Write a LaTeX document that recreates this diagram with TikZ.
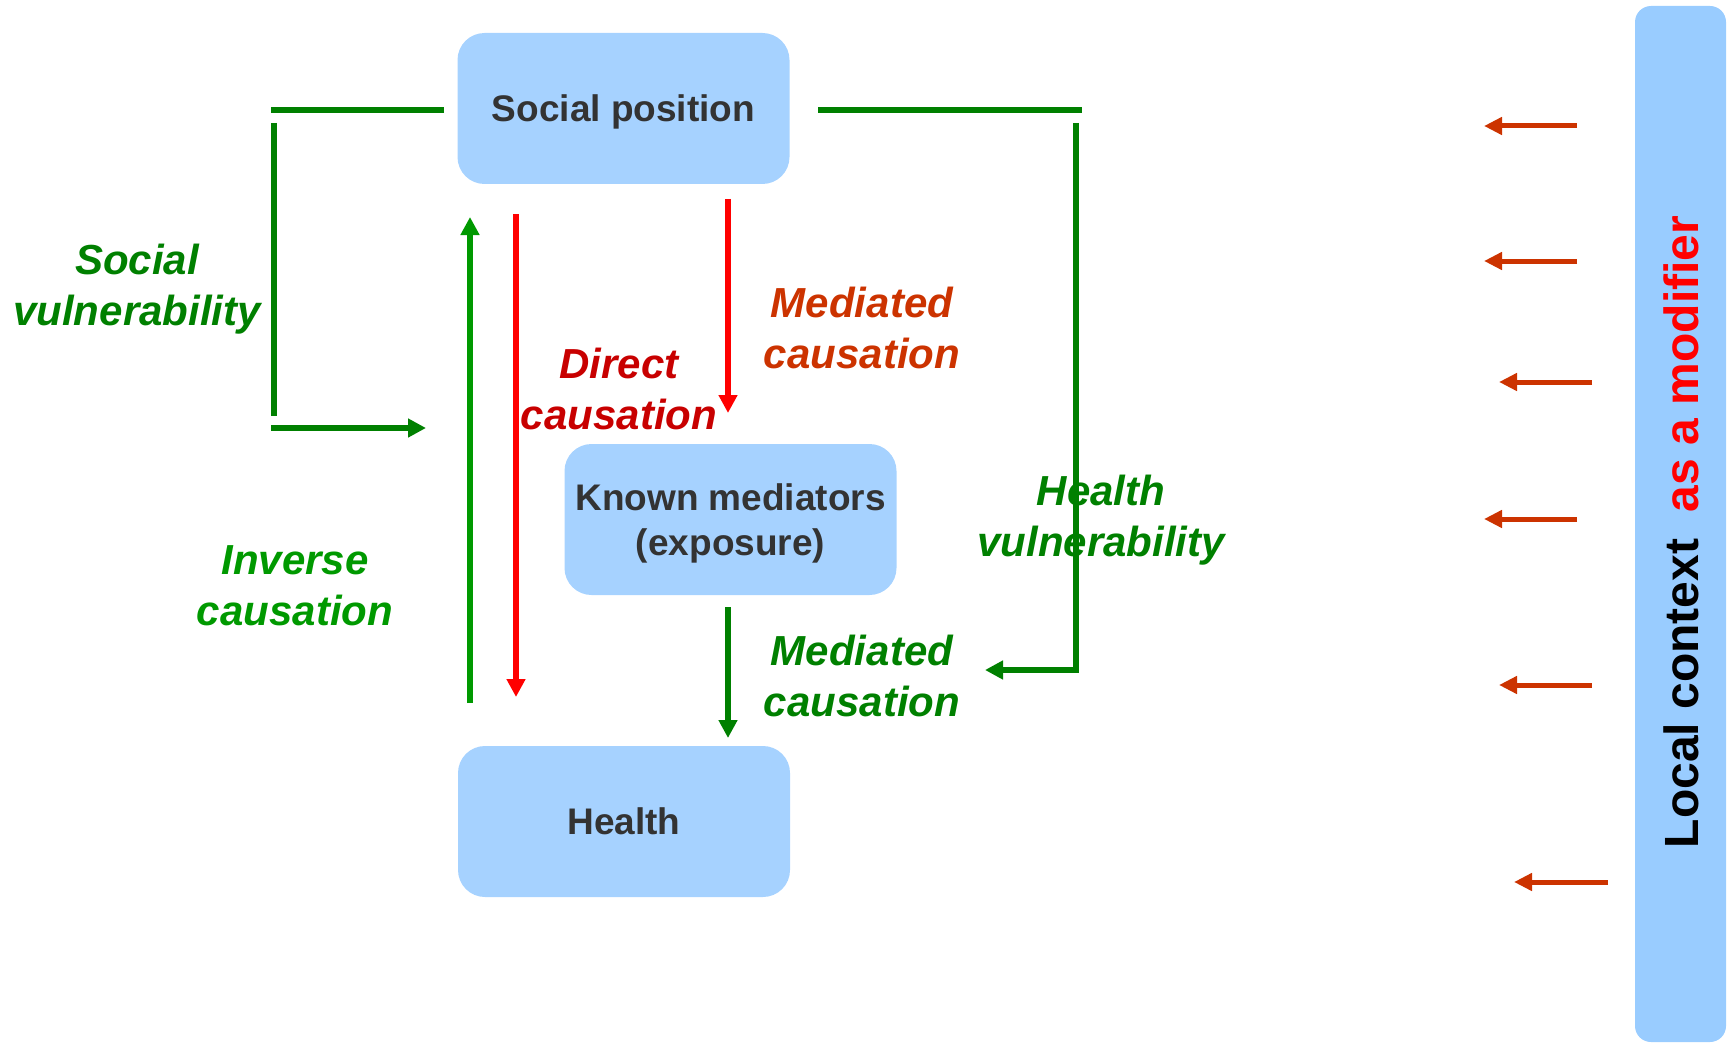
\documentclass[tikz,border=0pt]{standalone}
\usepackage{fontspec}
\setmainfont{Liberation Sans}
\usetikzlibrary{arrows.meta}
\definecolor{boxblue}{HTML}{A6D2FF}
\definecolor{barblue}{HTML}{99CCFF}
\definecolor{darkgreen}{HTML}{008000}
\definecolor{brightgreen}{HTML}{009900}
\definecolor{rustred}{HTML}{CC3300}
\definecolor{deepred}{HTML}{C80000}
\definecolor{boxtext}{HTML}{333333}

\begin{document}
\begin{tikzpicture}[x=1pt,y=-1pt,
  factor/.style={rectangle, rounded corners=27pt, fill=boxblue, draw=none,
    minimum width=332pt, minimum height=151pt, inner sep=0pt, text=boxtext,
    font=\fontsize{37}{45}\selectfont\bfseries, align=center, text depth=0pt},
  lbl/.style={font=\fontsize{42}{51}\selectfont\bfseries\itshape,
    align=center, anchor=base, inner sep=0pt},
  link/.style={line width=5.5pt},
  tip/.style={-{Triangle[length=18pt,width=18pt]}},
  ctxarrow/.style={draw=rustred, line width=5pt,
    -{Triangle[length=18pt,width=17pt]}},
]
\useasboundingbox (0,0) rectangle (1731,1043);

% main factors
\node[factor] (social)    at (623.5,108.5) {Social position};
\node[factor] (mediators) at (730.5,519.5) {Known mediators\\(exposure)};
\node[factor] (health)    at (624,821.5)   {Health};

% local context bar
\node[rectangle, rounded corners=16pt, fill=barblue, draw=none,
  minimum width=91pt, minimum height=1036pt, inner sep=0pt]
  (context) at (1680.5,524) {};
\node[rotate=90, anchor=base, inner sep=0pt,
  font=\fontsize{48}{58}\selectfont\bfseries]
  (contextlabel) at (1698,532) {Local context\ \ \textcolor{red}{as a modifier}};

% labels (placed at the baseline of their second line)
\node[lbl, text=darkgreen]   (socvul)    at (137,325)  {Social\\vulnerability};
\node[lbl, text=deepred]     (direct)    at (619,429)  {Direct\\causation};
\node[lbl, text=rustred]     (medred)    at (862,368)  {Mediated\\causation};
\node[lbl, text=brightgreen] (inverse)   at (295,625)  {Inverse\\causation};
\node[lbl, text=darkgreen]   (healthvul) at (1101,556) {Health\\vulnerability};
\node[lbl, text=darkgreen]   (medgreen)  at (862,716)  {Mediated\\causation};

% end points of the connectors
\coordinate (svTopR)  at (444,110);
\coordinate (svTopL)  at (271,110);
\coordinate (svUp)    at (274,123);
\coordinate (svDown)  at (274,416);
\coordinate (svFrom)  at (271,428);
\coordinate (svTo)    at (426,428);
\coordinate (hvTopL)  at (818,110);
\coordinate (hvTopR)  at (1082,110);
\coordinate (hvUp)    at (1076,123);
\coordinate (hvCorner) at (1076,670);
\coordinate (hvTo)    at (985,670);
\coordinate (invFrom) at (470,703);
\coordinate (invTo)   at (470,217);
\coordinate (dirFrom) at (516,214);
\coordinate (dirTo)   at (516,697);
\coordinate (mrFrom)  at (728,199);
\coordinate (mrTo)    at (728,413);
\coordinate (mgFrom)  at (728,607);
\coordinate (mgTo)    at (728,738);

% social vulnerability loop
\draw[link, darkgreen] (svTopR) -- (svTopL);
\draw[link, darkgreen] (svUp) -- (svDown);
\draw[link, darkgreen, tip] (svFrom) -- (svTo);

% health vulnerability loop
\draw[link, darkgreen] (hvTopL) -- (hvTopR);
\draw[link, darkgreen, tip] (hvUp) -- (hvCorner) -- (hvTo);

% causal arrows
\draw[link, brightgreen, tip] (invFrom) -- (invTo);
\draw[link, red, tip] (dirFrom) -- (dirTo);
\draw[link, red, tip] (mrFrom) -- (mrTo);
\draw[link, darkgreen, tip] (mgFrom) -- (mgTo);

% modifying influence of the local context
\foreach \i/\xs/\xe/\yy in {1/1577/1484/126, 2/1577/1484/261, 3/1592/1499/382,
                            4/1577/1484/519, 5/1592/1499/685, 6/1608/1514/882} {
  \coordinate (ctxFrom\i) at (\xs,\yy);
  \coordinate (ctxTo\i)   at (\xe,\yy);
  \draw[ctxarrow] (ctxFrom\i) -- (ctxTo\i);
}
\end{tikzpicture}
\end{document}
